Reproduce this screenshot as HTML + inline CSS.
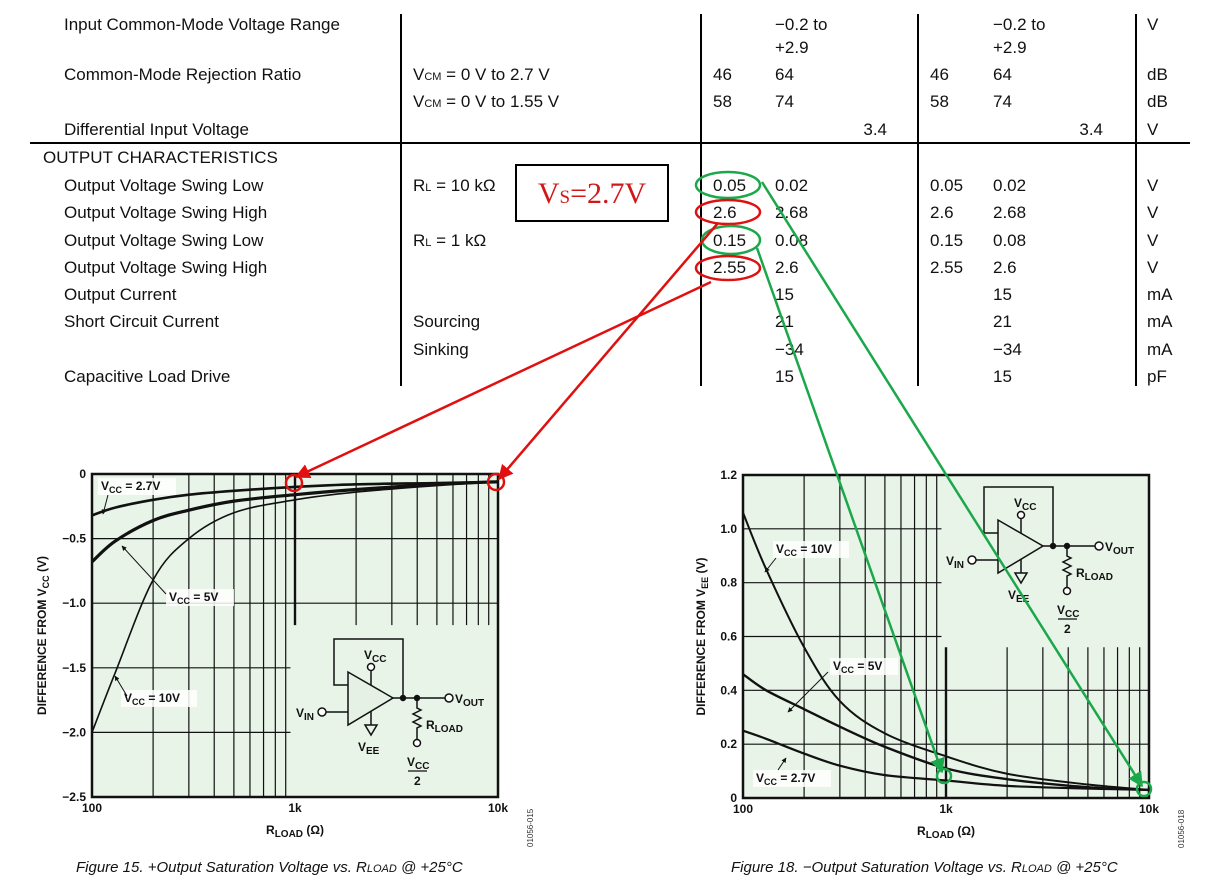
<!DOCTYPE html>
<html><head><meta charset="utf-8"><style>
body{margin:0;background:#fff;}
svg{display:block;font-family:"Liberation Sans",sans-serif;}
.t{font-size:17px;fill:#111;}
.b{font-weight:bold;font-size:12px;fill:#111;}
</style></head><body>
<svg id="s" width="1211" height="887" viewBox="0 0 1211 887">
<defs>
<marker id="ar" viewBox="0 0 10 10" refX="9" refY="5" markerWidth="6" markerHeight="6" orient="auto"><path d="M0,0L10,5L0,10z" fill="#e01010"/></marker>
<marker id="ag" viewBox="0 0 10 10" refX="9" refY="5" markerWidth="6" markerHeight="6" orient="auto"><path d="M0,0L10,5L0,10z" fill="#1aa84a"/></marker>
<marker id="ak" viewBox="0 0 10 10" refX="9" refY="5" markerWidth="5" markerHeight="5" orient="auto"><path d="M0,0L10,5L0,10z" fill="#111"/></marker>
</defs>
<g>
<line x1="401" y1="14" x2="401" y2="386" stroke="#000" stroke-width="2"/>
<line x1="701" y1="14" x2="701" y2="386" stroke="#000" stroke-width="2"/>
<line x1="918" y1="14" x2="918" y2="386" stroke="#000" stroke-width="2"/>
<line x1="1136" y1="14" x2="1136" y2="386" stroke="#000" stroke-width="2"/>
<line x1="30" y1="143" x2="1190" y2="143" stroke="#000" stroke-width="2"/>
<g class="t">
<text x="64" y="30">Input Common-Mode Voltage Range</text>
<text x="64" y="80">Common-Mode Rejection Ratio</text>
<text x="64" y="135">Differential Input Voltage</text>
<text x="43" y="163">OUTPUT CHARACTERISTICS</text>
<text x="64" y="191">Output Voltage Swing Low</text>
<text x="64" y="218">Output Voltage Swing High</text>
<text x="64" y="246">Output Voltage Swing Low</text>
<text x="64" y="273">Output Voltage Swing High</text>
<text x="64" y="300">Output Current</text>
<text x="64" y="327">Short Circuit Current</text>
<text x="64" y="382">Capacitive Load Drive</text>
<text x="413" y="80">V<tspan font-size="11">CM</tspan> = 0 V to 2.7 V</text>
<text x="413" y="107">V<tspan font-size="11">CM</tspan> = 0 V to 1.55 V</text>
<text x="413" y="191">R<tspan font-size="11">L</tspan> = 10 kΩ</text>
<text x="413" y="246">R<tspan font-size="11">L</tspan> = 1 kΩ</text>
<text x="413" y="327">Sourcing</text>
<text x="413" y="355">Sinking</text>
<text x="775" y="30">−0.2 to</text><text x="775" y="53">+2.9</text>
<text x="993" y="30">−0.2 to</text><text x="993" y="53">+2.9</text>
<text x="713" y="80">46</text><text x="775" y="80">64</text><text x="930" y="80">46</text><text x="993" y="80">64</text>
<text x="713" y="107">58</text><text x="775" y="107">74</text><text x="930" y="107">58</text><text x="993" y="107">74</text>
<text x="887" y="135" text-anchor="end">3.4</text><text x="1103" y="135" text-anchor="end">3.4</text>
<text x="713" y="191">0.05</text><text x="775" y="191">0.02</text><text x="930" y="191">0.05</text><text x="993" y="191">0.02</text>
<text x="713" y="218">2.6</text><text x="775" y="218">2.68</text><text x="930" y="218">2.6</text><text x="993" y="218">2.68</text>
<text x="713" y="246">0.15</text><text x="775" y="246">0.08</text><text x="930" y="246">0.15</text><text x="993" y="246">0.08</text>
<text x="713" y="273">2.55</text><text x="775" y="273">2.6</text><text x="930" y="273">2.55</text><text x="993" y="273">2.6</text>
<text x="775" y="300">15</text><text x="993" y="300">15</text>
<text x="775" y="327">21</text><text x="993" y="327">21</text>
<text x="775" y="355">−34</text><text x="993" y="355">−34</text>
<text x="775" y="382">15</text><text x="993" y="382">15</text>
<text x="1147" y="30">V</text><text x="1147" y="80">dB</text><text x="1147" y="107">dB</text><text x="1147" y="135">V</text>
<text x="1147" y="191">V</text><text x="1147" y="218">V</text><text x="1147" y="246">V</text><text x="1147" y="273">V</text>
<text x="1147" y="300">mA</text><text x="1147" y="327">mA</text><text x="1147" y="355">mA</text><text x="1147" y="382">pF</text>
</g>
<rect x="516" y="165" width="152" height="56" fill="none" stroke="#000" stroke-width="2"/>
<text x="592" y="203" text-anchor="middle" font-family="Liberation Serif,serif" font-size="30" fill="#d01818">V<tspan font-size="19">S</tspan>=2.7V</text>
</g>
<g id="left"></g>
<g id="right"></g>
<g fill="none" stroke-width="2.5">
<ellipse cx="728" cy="185" rx="32" ry="13" stroke="#1aa84a"/>
<ellipse cx="728" cy="212" rx="32" ry="12" stroke="#e01010"/>
<ellipse cx="731" cy="240" rx="29" ry="14" stroke="#1aa84a"/>
<ellipse cx="728" cy="268" rx="32" ry="12" stroke="#e01010"/>
<line x1="711" y1="282" x2="296" y2="477" stroke="#e01010" marker-end="url(#ar)"/>
<line x1="718" y1="223" x2="499" y2="479" stroke="#e01010" marker-end="url(#ar)"/>
<line x1="762" y1="182" x2="1142" y2="786" stroke="#1aa84a" marker-end="url(#ag)"/>
<line x1="757" y1="248" x2="942" y2="772" stroke="#1aa84a" marker-end="url(#ag)"/>
<circle cx="294" cy="483" r="8" stroke="#e01010"/>
<circle cx="496" cy="482" r="8" stroke="#e01010"/>
<circle cx="944" cy="776" r="7" stroke="#1aa84a"/>
<circle cx="1144" cy="789" r="7" stroke="#1aa84a"/>
</g>
</svg>
<script>
// Figure 15 data (difference from Vcc)
const rLoad = [100,130,200,300,500,1000,2000,5000,10000];
const leftV27 = [-0.32,-0.26,-0.2,-0.16,-0.13,-0.1,-0.08,-0.07,-0.06];
const leftV5 = [-0.68,-0.52,-0.36,-0.28,-0.21,-0.16,-0.12,-0.08,-0.06];
const leftV10 = [-2.0,-1.54,-0.82,-0.5,-0.3,-0.2,-0.14,-0.09,-0.06];
const leftYTicks = [0,-0.5,-1.0,-1.5,-2.0,-2.5];
const leftYLabels = ["0","−0.5","−1.0","−1.5","−2.0","−2.5"];
// Figure 18 data (difference from Vee)
const rightV10 = [1.06,0.85,0.56,0.36,0.24,0.155,0.09,0.05,0.03];
const rightV5 = [0.46,0.4,0.33,0.265,0.19,0.11,0.07,0.04,0.03];
const rightV27 = [0.25,0.22,0.165,0.12,0.085,0.065,0.045,0.035,0.03];
const rightYTicks = [0,0.2,0.4,0.6,0.8,1.0,1.2];
const rightYLabels = ["0","0.2","0.4","0.6","0.8","1.0","1.2"];
const xTicks = [100,1000,10000];
const xLabels = ["100","1k","10k"];

const NS="http://www.w3.org/2000/svg";
function mk(parent,tag,attrs,txt){const e=document.createElementNS(NS,tag);for(const k in attrs)e.setAttribute(k,attrs[k]);if(txt!==undefined)e.textContent=txt;parent.appendChild(e);return e;}
function smooth(pts){let d="M"+pts[0][0]+","+pts[0][1];for(let i=0;i<pts.length-1;i++){const p0=pts[Math.max(0,i-1)],p1=pts[i],p2=pts[i+1],p3=pts[Math.min(pts.length-1,i+2)];
d+=" C"+(p1[0]+(p2[0]-p0[0])/6)+","+(p1[1]+(p2[1]-p0[1])/6)+" "+(p2[0]-(p3[0]-p1[0])/6)+","+(p2[1]-(p3[1]-p1[1])/6)+" "+p2[0]+","+p2[1];}return d;}

function chart(g,o){
  const x=r=>o.x0+(o.x1-o.x0)*Math.log10(r/100)/2;
  const y=v=>o.y0+(o.y1-o.y0)*(v-o.vmin)/(o.vmax-o.vmin);
  const bg=mk(g,'rect',{x:o.x0,y:o.y1,width:o.x1-o.x0,height:o.y0-o.y1,fill:'#e9f4e9'});
  
  
  for(let d=1;d<=2;d++)for(let m=2;m<=9;m++){const rr=d==1?m*100:m*1000;const gx=x(rr);
    const full=(d==1);const top=full?o.y1:y(o.vGridTop);const bot=full?o.y0:y(o.vGridBot);
    mk(g,'line',{x1:gx,x2:gx,y1:top,y2:bot,stroke:'#111','stroke-width':1.2});}
  mk(g,'line',{x1:x(1000),x2:x(1000),y1:y(o.vGridTop),y2:y(o.vGridBot),stroke:'#111','stroke-width':2.4});
  o.yt.forEach((v,i)=>{const gy=y(v);const short=o.shortH.includes(v);
    mk(g,'line',{x1:o.x0,x2:short?x(950):o.x1,y1:gy,y2:gy,stroke:'#111','stroke-width':1.2});
    const t=mk(g,'text',{x:o.x0-6,y:gy+4,'text-anchor':'end',class:'b'},o.yl[i]);
    
    });
  xTicks.forEach((r,i)=>{const t=mk(g,'text',{x:x(r),y:o.y0+15,'text-anchor':'middle',class:'b'},xLabels[i]);
    
    });
  o.series.forEach(s=>{const p=mk(g,'path',{d:smooth(rLoad.map((r,i)=>[x(r),y(s.v[i])])),fill:'none',stroke:'#111','stroke-width':s.w});
    
    });
  const fr=mk(g,'rect',{x:o.x0,y:o.y1,width:o.x1-o.x0,height:o.y0-o.y1,fill:'none',stroke:'#111','stroke-width':2.5});
  
  
  const xt=mk(g,'text',{x:(o.x0+o.x1)/2,y:o.y0+37,'text-anchor':'middle',class:'b','font-size':'13'});
  xt.innerHTML='R<tspan font-size="10" dy="3">LOAD</tspan><tspan dy="-3"> (Ω)</tspan>';
  
  
  const yt=mk(g,'text',{x:0,y:0,transform:'translate('+o.ytx+','+((o.y0+o.y1)/2)+') rotate(-90)','text-anchor':'middle',class:'b','font-size':'12'});
  yt.innerHTML=o.ytitle;
  
  
  const c=mk(g,'text',{x:0,y:0,transform:'translate('+(o.x1+35)+','+(o.y0+50)+') rotate(-90)','font-size':'8',fill:'#333'},o.code);
  
  
  const cap=mk(g,'text',{x:o.capx,y:872,'font-size':'15','font-style':'italic',fill:'#111'});
  cap.innerHTML=o.cap;
  
  
  o.labels.forEach(l=>{mk(g,'rect',{x:l.x-3,y:l.y-12,width:l.w,height:17,fill:'#fff',opacity:0.85});
    const t=mk(g,'text',{x:l.x,y:l.y,class:'b'});t.innerHTML='V<tspan font-size="9" dy="3">CC</tspan><tspan dy="-3"> = '+l.v+'</tspan>';
    
    
    mk(g,'line',{x1:l.ax1,y1:l.ay1,x2:l.ax2,y2:l.ay2,stroke:'#111','stroke-width':1,'marker-end':'url(#ak)'});});
}
function circuit(g,ox,oy){
  const c=mk(g,'g',{transform:'translate('+ox+','+oy+')',fill:'none',stroke:'#111','stroke-width':1.5});
  
  
  mk(c,'path',{d:'M14,12 H0 V-34 H69 V25'});
  mk(c,'path',{d:'M14,-1 V52 L59,25 Z',fill:'#e4f1e4'});
  mk(c,'path',{d:'M-8,39 H14'});
  mk(c,'circle',{cx:-12,cy:39,r:4,fill:'#fff'});
  mk(c,'path',{d:'M37,12 V-3'});mk(c,'circle',{cx:37,cy:-6,r:3.5,fill:'#fff'});
  mk(c,'path',{d:'M37,38 V52 M31,52 H43 L37,62 Z'});
  mk(c,'path',{d:'M59,25 H111'});mk(c,'circle',{cx:115,cy:25,r:4,fill:'#fff'});
  mk(c,'circle',{cx:69,cy:25,r:2.5,fill:'#111'});mk(c,'circle',{cx:83,cy:25,r:2.5,fill:'#111'});
  mk(c,'path',{d:'M83,25 V35 l4,2 l-8,4 l8,4 l-8,4 l8,4 l-4,2 V66'});
  mk(c,'circle',{cx:83,cy:70,r:3.5,fill:'#fff'});
  mk(c,'path',{d:'M74,98 H93','stroke-width':1.2});
  const tx=(x,y,h)=>{const t=mk(c,'text',{x:x,y:y,class:'b',stroke:'none',fill:'#111','font-size':'13'});t.innerHTML=h;};
  tx(30,-14,'V<tspan font-size="10" dy="3">CC</tspan>');
  tx(-38,44,'V<tspan font-size="10" dy="3">IN</tspan>');
  tx(24,78,'V<tspan font-size="10" dy="3">EE</tspan>');
  tx(121,30,'V<tspan font-size="10" dy="3">OUT</tspan>');
  tx(92,56,'R<tspan font-size="10" dy="3">LOAD</tspan>');
  tx(73,93,'V<tspan font-size="10" dy="3">CC</tspan>');
  tx(80,112,'2');
}
const L=document.getElementById('left'),R=document.getElementById('right');
chart(L,{x0:92,x1:498,y0:797,y1:474,vmin:-2.5,vmax:0,yt:leftYTicks,yl:leftYLabels,shortH:[-1.5,-2.0],vGridTop:0,vGridBot:-1.17,
 series:[{v:leftV27,w:2.6,name:'series-vcc-2.7v'},{v:leftV5,w:3.2,name:'series-vcc-5v'},{v:leftV10,w:1.6,name:'series-vcc-10v'}],
 ytx:46,ytitle:'DIFFERENCE FROM V<tspan font-size="9" dy="3">CC</tspan><tspan dy="-3"> (V)</tspan>',code:'01056-015',capx:76,
 cap:'Figure 15. +Output Saturation Voltage vs. R<tspan font-size="11">LOAD</tspan> @ +25°C',
 labels:[{x:101,y:490,w:78,v:'2.7V',ax1:108,ay1:495,ax2:103,ay2:514},{x:169,y:601,w:68,v:'5V',ax1:166,ay1:594,ax2:122,ay2:546},{x:124,y:702,w:76,v:'10V',ax1:127,ay1:696,ax2:115,ay2:676}]});
chart(R,{x0:743,x1:1149,y0:798,y1:475,vmin:0,vmax:1.2,yt:rightYTicks,yl:rightYLabels,shortH:[0.6,0.8,1.0],vGridTop:0.56,vGridBot:0,
 series:[{v:rightV10,w:2,name:'series-vcc-10v'},{v:rightV5,w:2.4,name:'series-vcc-5v'},{v:rightV27,w:2.2,name:'series-vcc-2.7v'}],
 ytx:705,ytitle:'DIFFERENCE FROM V<tspan font-size="9" dy="3">EE</tspan><tspan dy="-3"> (V)</tspan>',code:'01056-018',capx:731,
 cap:'Figure 18. −Output Saturation Voltage vs. R<tspan font-size="11">LOAD</tspan> @ +25°C',
 labels:[{x:776,y:553,w:76,v:'10V',ax1:776,ay1:558,ax2:765,ay2:572},{x:833,y:670,w:68,v:'5V',ax1:828,ay1:672,ax2:788,ay2:712},{x:756,y:782,w:78,v:'2.7V',ax1:778,ay1:770,ax2:786,ay2:758}]});
circuit(L,334,673);
circuit(R,984,521);
</script>
</body></html>
